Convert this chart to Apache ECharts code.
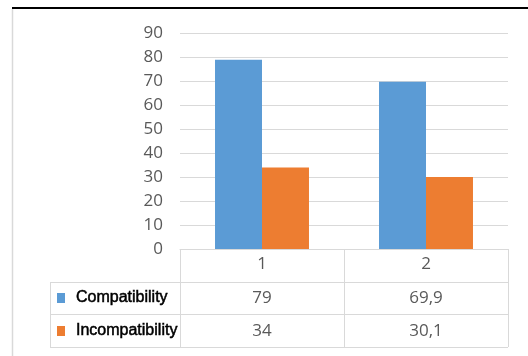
<!DOCTYPE html>
<html>
<head>
<meta charset="utf-8">
<style>
  html, body { margin: 0; padding: 0; background: #ffffff; }
  #chart { width: 528px; height: 356px; }
</style>
<script src="https://cdn.jsdelivr.net/npm/echarts@6/dist/echarts.min.js"></script>
</head>
<body>
<div id="chart"></div>
<script>
// Categories along the x axis (also the header row of the data table)
const categories = ['1', '2'];
// Series names and values
const seriesNames = ['Compatibility', 'Incompatibility'];
const compatibility = [79, 69.9];
const incompatibility = [34, 30.1];
// Value shown in the data table, written with a decimal comma
const tableText = v => String(v).replace('.', ',');
// Y axis ticks
const yMin = 0, yMax = 90, yStep = 10;

const colors = ['#5B9BD5', '#ED7D31'];
const gridColor = '#d9d9d9';
const textGrey = '#595959';
const numFont = '"Open Sans", sans-serif';
const numSize = 17;

const G = { left: 180, right: 20, top: 33.5, bottom: 107 };
const W = 528, H = 356;

const chart = echarts.init(document.getElementById('chart'), null, { renderer: 'canvas' });

chart.setOption({
  animation: false,
  backgroundColor: '#ffffff',
  color: colors,
  grid: { left: G.left, right: G.right, top: G.top, bottom: G.bottom, containLabel: false },
  xAxis: {
    type: 'category',
    data: categories,
    axisLine: { show: true, lineStyle: { color: gridColor, width: 1 } },
    axisTick: { show: true, length: 98, lineStyle: { color: gridColor, width: 1 } },
    axisLabel: { color: textGrey, fontFamily: numFont, fontSize: numSize, margin: 7 }
  },
  yAxis: {
    type: 'value',
    min: yMin, max: yMax, interval: yStep,
    axisLine: { show: false },
    axisTick: { show: false },
    axisLabel: { color: textGrey, fontFamily: numFont, fontSize: numSize, margin: 17 },
    splitLine: { lineStyle: { color: gridColor, width: 1 } }
  },
  series: [
    { name: seriesNames[0], type: 'bar', data: compatibility, barGap: '0%', barCategoryGap: '42.7%' },
    { name: seriesNames[1], type: 'bar', data: incompatibility, barGap: '0%', barCategoryGap: '42.7%' }
  ]
});

// Data table beneath the plot, plus the outer frame lines
function drawTable() {
  const x0 = 50;                        // left edge of the series-name column
  const xR = W - G.right;               // right edge of the plot area
  const yAxisY = H - G.bottom;          // baseline of the plot
  const rowH = 32.7;
  const rows = [yAxisY + rowH, yAxisY + 2 * rowH, yAxisY + 3 * rowH];
  const els = [];
  const line = (x1, y1, x2, y2, color, w) => els.push({
    type: 'line', silent: true,
    shape: { x1, y1, x2, y2 },
    style: { stroke: color, lineWidth: w || 1 }
  });

  // frame
  line(12, 8, W, 8, '#000000', 2);
  line(12.5, 9, 12.5, H, gridColor, 1.5);

  // table rules
  rows.forEach(y => line(x0, Math.round(y) + 0.5, xR, Math.round(y) + 0.5, gridColor, 1));
  line(x0 + 0.5, Math.round(rows[0]) + 0.5, x0 + 0.5, Math.round(rows[2]) + 0.5, gridColor, 1);

  const seriesData = [compatibility, incompatibility];
  seriesData.forEach((vals, si) => {
    const yc = (rows[si] + rows[si + 1]) / 2;
    // legend key
    els.push({
      type: 'rect', silent: true,
      shape: { x: 57, y: Math.round(yc) - 5, width: 8, height: 10 },
      style: { fill: colors[si] }
    });
    els.push({
      type: 'text', silent: true,
      style: {
        x: 76, y: yc, text: seriesNames[si],
        font: '16px "Liberation Sans", Arial, sans-serif',
        fill: '#000000', stroke: '#000000', lineWidth: 0.5,
        textAlign: 'left', textVerticalAlign: 'middle'
      }
    });
    vals.forEach((v, ci) => {
      const xc = chart.convertToPixel({ xAxisIndex: 0 }, categories[ci]);
      els.push({
        type: 'text', silent: true,
        style: {
          x: xc, y: yc, text: tableText(v),
          font: numSize + 'px ' + numFont,
          fill: textGrey,
          textAlign: 'center', textVerticalAlign: 'middle'
        }
      });
    });
  });

  chart.setOption({ graphic: { elements: els } });
}
drawTable();
</script>
</body>
</html>
